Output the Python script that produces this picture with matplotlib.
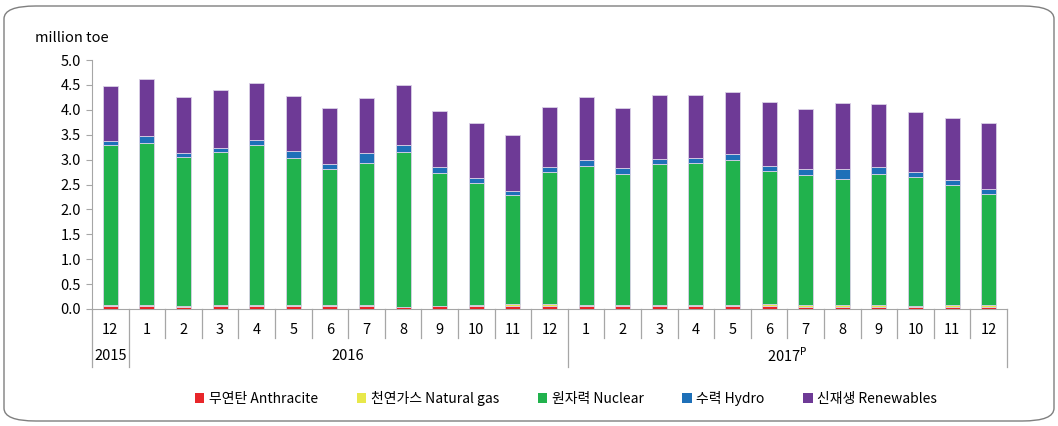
import matplotlib
matplotlib.use("Agg")
import matplotlib.pyplot as plt
import matplotlib.transforms as mtransforms
from matplotlib.patches import FancyBboxPatch, Patch
import numpy as np

plt.rcParams['font.family'] = ['Noto Sans CJK KR', 'DejaVu Sans']

months = ["12", "1", "2", "3", "4", "5", "6", "7", "8", "9", "10", "11", "12",
          "1", "2", "3", "4", "5", "6", "7", "8", "9", "10", "11", "12"]
years = ["2015", "2016", "2017$^{\\mathrm{P}}$"]
year_spans = [(0, 1), (1, 13), (13, 25)]

anthracite = [0.06, 0.06, 0.045, 0.06, 0.06, 0.06, 0.065, 0.06, 0.045, 0.065, 0.06, 0.06, 0.06,
              0.06, 0.06, 0.06, 0.06, 0.055, 0.065, 0.05, 0.05, 0.05, 0.045, 0.05, 0.05]
natural_gas = [0.015, 0.015, 0.02, 0.02, 0.015, 0.015, 0.01, 0.02, 0.005, 0.005, 0.015, 0.04, 0.04,
               0.025, 0.03, 0.03, 0.025, 0.025, 0.03, 0.025, 0.025, 0.025, 0.01, 0.025, 0.03]
totals_nuclear_top = [3.29, 3.33, 3.06, 3.16, 3.30, 3.03, 2.81, 2.94, 3.16, 2.73, 2.54, 2.28, 2.76,
                      2.88, 2.72, 2.91, 2.93, 3.00, 2.77, 2.69, 2.62, 2.71, 2.65, 2.49, 2.31]
hydro = [0.08, 0.135, 0.08, 0.08, 0.10, 0.14, 0.11, 0.19, 0.14, 0.13, 0.10, 0.09, 0.10,
         0.12, 0.12, 0.10, 0.11, 0.12, 0.11, 0.13, 0.20, 0.14, 0.11, 0.10, 0.10]
renewables = [1.11, 1.145, 1.11, 1.16, 1.14, 1.10, 1.12, 1.11, 1.19, 1.11, 1.10, 1.12, 1.19,
              1.25, 1.20, 1.29, 1.26, 1.24, 1.27, 1.19, 1.31, 1.26, 1.19, 1.24, 1.32]
nuclear = [round(t - a - g, 3) for t, a, g in zip(totals_nuclear_top, anthracite, natural_gas)]

series = [
    ("무연탄 Anthracite", anthracite, "#E8262A"),
    ("천연가스 Natural gas", natural_gas, "#E8E84A"),
    ("원자력 Nuclear", nuclear, "#21B24D"),
    ("수력 Hydro", hydro, "#1E70B8"),
    ("신재생 Renewables", renewables, "#6E3A96"),
]

fig = plt.figure(figsize=(10.58, 4.26), dpi=100)
W, H = 1058, 426
ax = fig.add_axes([92 / W, 1 - 309 / H, (1007 - 92) / W, (309 - 60) / H])

x = np.arange(len(months))
bottom = np.zeros(len(months))
for label, vals, color in series:
    vals = np.array(vals)
    ax.bar(x, vals, width=0.41, bottom=bottom, color=color, edgecolor="#D9D0E6",
           linewidth=0.6, label=label, zorder=3)
    bottom += vals

ax.set_xlim(-0.5, len(months) - 0.5)
ax.set_ylim(0, 5.0)
ax.set_yticks(np.arange(0, 5.01, 0.5))
ax.set_yticklabels([f"{v:.1f}" for v in np.arange(0, 5.01, 0.5)], fontsize=10.5)
ax.tick_params(axis='y', length=4, color="#A6A6A6", pad=4)
ax.set_xticks(x)
ax.set_xticklabels(months, fontsize=10.5)
ax.tick_params(axis='x', length=0, pad=10)

for s in ["top", "right"]:
    ax.spines[s].set_visible(False)
ax.spines["left"].set_color("#A6A6A6")
ax.spines["bottom"].set_color("#A6A6A6")

trans = mtransforms.blended_transform_factory(ax.transData, ax.transAxes)
month_len = (338 - 309) / (309 - 60)
year_len = (367 - 309) / (309 - 60)
year_bounds = {0, 1, 13, 25}
for b in range(len(months) + 1):
    xb = b - 0.5
    ln = year_len if b in year_bounds else month_len
    ax.plot([xb, xb], [0, -ln], transform=trans, color="#A6A6A6", lw=0.9, clip_on=False)

for name, (s, e) in zip(years, year_spans):
    ax.text((s + e - 1) / 2, -(356 - 309) / (309 - 60), name, transform=trans,
            ha="center", va="center", fontsize=10.5)

fig.text(35 / W, 1 - 38 / H, "million toe", fontsize=10.5, va="center", ha="left")

handles = [Patch(facecolor=c, edgecolor="none") for _, _, c in series]
fig.legend(handles, [s[0] for s in series], loc="center", bbox_to_anchor=(566 / W, 1 - 398 / H),
           ncol=5, frameon=False, fontsize=10, handlelength=0.7, handleheight=0.7,
           handletextpad=0.3, columnspacing=2.8)

border = FancyBboxPatch((4 / W, 5 / H), (1054 - 4) / W, (420 - 5) / H,
                        boxstyle="round,pad=0,rounding_size=0.03",
                        transform=fig.transFigure, fill=False, edgecolor="#7F7F7F", lw=1.0)
fig.patches.append(border)

fig.savefig("out.png", dpi=100)
